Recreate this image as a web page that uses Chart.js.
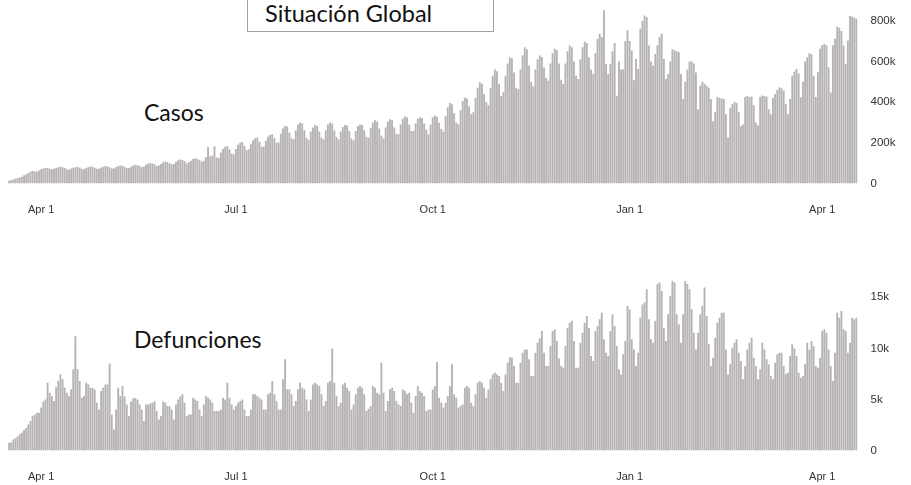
<!DOCTYPE html>
<html lang="es">
<head>
<meta charset="utf-8">
<title>Situación Global</title>
<script src="https://cdn.jsdelivr.net/npm/chart.js"></script>
<style>
  html, body { margin: 0; padding: 0; background: #fff; }
  body { width: 911px; height: 485px; position: relative; overflow: hidden; font-family: Lato, "Noto Sans", sans-serif; }
  canvas { position: absolute; left: 0; }
  #casesChart { top: 0; }
  #deathsChart { top: 260px; }
  .titleBox { position: absolute; left: 247px; top: -2px; width: 247px; height: 34px; border: 1px solid #a3a3a3; box-sizing: border-box; }
  .label { position: absolute; color: #111; white-space: nowrap; line-height: 1; }
</style>
</head>
<body>
<div class="titleBox"></div>
<div class="label" id="title" style="left:265px; top:2px; font-size:23.5px;">Situación Global</div>
<div class="label" id="casosLabel" style="left:144px; top:101px; font-size:23px;">Casos</div>
<div class="label" id="defLabel" style="left:134px; top:328px; font-size:23px;">Defunciones</div>
<canvas id="casesChart" width="911" height="230"></canvas>
<canvas id="deathsChart" width="911" height="225"></canvas>
<script>
// daily reports, first day 2020-03-17, one line per week (Tue..Mon)
const startDay = "2020-03-17";

// new cases per day, in thousands
const casesK = [
  14, 17, 20, 24, 27, 30, 33,
  40, 45, 52, 58, 62, 60, 58,
  64, 70, 74, 76, 78, 72, 70,
  72, 76, 80, 82, 80, 76, 70,
  68, 74, 78, 80, 82, 78, 72,
  70, 76, 80, 84, 82, 78, 72,
  72, 78, 82, 86, 84, 80, 74,
  74, 80, 86, 88, 86, 82, 76,
  76, 82, 88, 92, 90, 86, 80,
  84, 92, 98, 100, 98, 94, 86,
  88, 96, 104, 108, 106, 100, 94,
  96, 106, 114, 118, 116, 110, 100,
  104, 112, 120, 124, 122, 114, 108,
  112, 130, 178, 134, 138, 183, 128,
  127, 152, 170, 180, 184, 168, 148,
  143, 170, 190, 200, 204, 185, 165,
  168, 195, 212, 222, 226, 205, 180,
  181, 210, 230, 240, 242, 222, 200,
  201, 245, 270, 283, 280, 250, 222,
  217, 260, 290, 300, 296, 262, 225,
  214, 255, 275, 287, 282, 255, 225,
  217, 262, 290, 300, 295, 260, 228,
  217, 255, 278, 287, 285, 258, 222,
  212, 258, 282, 290, 288, 262, 230,
  226, 272, 300, 311, 305, 270, 235,
  222, 275, 305, 316, 312, 275, 245,
  242, 290, 318, 329, 325, 290, 258,
  258, 295, 318, 324, 322, 295, 265,
  242, 290, 325, 333, 328, 298, 268,
  254, 330, 375, 395, 390, 345, 300,
  291, 360, 405, 423, 418, 380, 340,
  350, 420, 470, 498, 490, 440, 400,
  385, 470, 530, 560, 552, 490, 430,
  448, 530, 590, 621, 615, 545, 470,
  464, 560, 630, 670, 660, 580, 500,
  478, 560, 610, 629, 622, 570, 520,
  505, 590, 640, 662, 655, 590, 510,
  489, 590, 650, 678, 670, 600, 530,
  514, 610, 670, 698, 690, 620, 560,
  538, 640, 710, 736, 720, 851, 588,
  538, 588, 650, 690, 431, 600, 560,
  560, 700, 752, 700, 653, 507, 612,
  563, 760, 800, 826, 818, 678, 600,
  580, 637, 680, 720, 736, 612, 514,
  538, 600, 660, 655, 650, 646, 538,
  415, 500, 560, 600, 600, 590, 545,
  365, 480, 500, 490, 480, 470, 415,
  306, 350, 425, 420, 418, 415, 340,
  226, 370, 390, 400, 395, 350, 283,
  290, 425, 430, 425, 428, 385, 300,
  285, 425, 432, 430, 428, 365, 340,
  420, 440, 460, 473, 468, 457, 390,
  340, 415, 530, 550, 563, 540, 424,
  500, 600, 620, 640, 635, 530, 425,
  547, 662, 680, 686, 680, 571, 447,
  680, 711, 770, 765, 750, 678, 588,
  703, 823, 820, 815, 810
];

// new deaths per day
const deaths = [
  750, 800, 1080, 1200, 1400, 1600, 1730,
  2000, 2200, 2550, 2900, 3400, 3500, 3700,
  3700, 4200, 4800, 5000, 6640, 5660, 5330,
  4840, 6200, 6800, 7450, 6970, 6150, 5660,
  5330, 6000, 7950, 11200, 7950, 6800, 5170,
  5330, 6640, 6470, 6150, 6150, 5980, 4680,
  4020, 5820, 6150, 6470, 6470, 8530, 3500,
  2060, 4020, 6150, 5330, 6310, 5300, 4500,
  3370, 4800, 5100, 5150, 5000, 4500, 4020,
  2880, 4510, 4510, 4600, 4680, 4800, 3860,
  3040, 3370, 4800, 4700, 4350, 4350, 4020,
  3040, 4510, 5000, 5300, 5500, 4680, 3370,
  3530, 3530, 5170, 5000, 4850, 4020, 3370,
  4500, 5330, 5170, 5000, 4680, 3860, 3860,
  3860, 4020, 5170, 5000, 6640, 5170, 4510,
  4020, 4350, 4680, 4850, 5000, 4020, 3370,
  3370, 4020, 5500, 5500, 5330, 5170, 5000,
  4020, 4020, 5500, 5650, 6800, 5500, 4840,
  4020, 4020, 6970, 8930, 6000, 6000, 5500,
  4350, 4840, 6000, 6640, 6150, 6000, 5000,
  3860, 5000, 6470, 6640, 6470, 6310, 5500,
  4350, 4840, 6640, 6800, 9970, 6640, 5330,
  4350, 4680, 6470, 6640, 6150, 5830, 4020,
  4510, 5500, 6150, 6310, 6150, 5500, 3860,
  4100, 4350, 6310, 6150, 5660, 5500, 8600,
  5660, 3860, 4840, 6000, 6150, 5830, 4840,
  4500, 4350, 5980, 5830, 5500, 5660, 4680,
  3700, 5330, 6310, 5830, 5660, 5330, 3860,
  4020, 4020, 5980, 6310, 8670, 5170, 4680,
  4190, 4680, 5330, 6310, 8440, 5500, 5170,
  4190, 4350, 4510, 6150, 6310, 6150, 4680,
  4350, 5500, 6640, 6800, 6640, 6150, 5170,
  5980, 6970, 7450, 7620, 7450, 7290, 6640,
  5820, 7450, 8600, 9100, 9100, 8270, 6640,
  6640, 8600, 9580, 9900, 9900, 8930, 7290,
  7290, 9580, 10560, 11000, 11700, 9580, 8270,
  8270, 10240, 11700, 11870, 10730, 9000, 8270,
  8110, 10240, 12000, 12500, 12700, 10730, 8110,
  8110, 10560, 11540, 12500, 13180, 12000, 9250,
  8760, 11700, 12200, 12850, 13500, 10890, 9580,
  9250, 11700, 13340, 12200, 10240, 7950, 7450,
  9420, 10730, 14160, 13830, 10900, 9900, 8270,
  9580, 13000, 14300, 14490, 15800, 12850, 10900,
  10560, 12690, 16300, 16450, 15630, 12000, 10730,
  13340, 15140, 16600, 16450, 13340, 12360, 10560,
  13340, 16600, 16300, 15800, 13830, 11540, 9900,
  11540, 13340, 14160, 15960, 13180, 10400, 8270,
  9090, 11050, 12500, 13000, 13500, 13500, 9900,
  7450, 8440, 10070, 10560, 10890, 9580, 8760,
  6970, 8270, 9900, 10560, 11050, 9090, 8270,
  6970, 7950, 10560, 9900, 8930, 8440, 7290,
  6970, 8600, 9420, 9580, 9580, 8270, 7500,
  7620, 9250, 10400, 10000, 9250, 7620, 7130,
  7300, 8440, 10560, 9900, 10730, 10240, 8270,
  8110, 9090, 11700, 11870, 11540, 9900, 8270,
  6800, 9580, 13500, 13000, 13670, 11870, 11700,
  9580, 10560, 13000, 12850, 13000
];

// y-axis tick values
const casesTicks = [0, 200, 400, 600, 800];
const deathsTicks = [0, 5000, 10000, 15000];

const monthNames = ["Jan", "Feb", "Mar", "Apr", "May", "Jun", "Jul", "Aug", "Sep", "Oct", "Nov", "Dec"];
const tickMonths = [0, 3, 6, 9]; // Jan, Apr, Jul, Oct

// one category per reported day
const days = [];
{
  const d = new Date(startDay + "T00:00:00Z");
  for (let i = 0; i < casesK.length; i++) {
    days.push(d.toISOString().slice(0, 10));
    d.setUTCDate(d.getUTCDate() + 1);
  }
}

const barColor = "#b7b3b3";
const tickFont = { family: "'Liberation Sans', Arial, sans-serif", size: 11 };
const yTickFont = { family: "'Liberation Sans', Arial, sans-serif", size: 11.5 };
const tickColor = "#333";

function dayTick(label) {
  const m = Number(label.slice(5, 7)) - 1;
  const dd = Number(label.slice(8, 10));
  if (dd === 1 && tickMonths.includes(m)) return monthNames[m] + " 1";
  return "";
}

function makePanel(canvasId, values, opts) {
  const canvas = document.getElementById(canvasId);
  return new Chart(canvas, {
    type: "bar",
    data: {
      labels: days,
      datasets: [{
        data: values,
        backgroundColor: barColor,
        borderWidth: 0,
        barPercentage: 0.88,
        categoryPercentage: 1.0
      }]
    },
    options: {
      responsive: false,
      animation: false,
      events: [],
      layout: { padding: { left: 8, right: 0, top: opts.padTop, bottom: 0 } },
      plugins: { legend: { display: false }, tooltip: { enabled: false } },
      scales: {
        x: {
          grid: { display: false, drawTicks: false },
          border: { display: false },
          ticks: {
            autoSkip: false, maxRotation: 0, minRotation: 0,
            padding: 20, font: tickFont, color: tickColor,
            callback: function (value) { return dayTick(this.getLabelForValue(value)); }
          },
          afterFit: (s) => { s.height = opts.xHeight; s.paddingLeft = 0; s.paddingRight = 0; }
        },
        y: {
          position: "right",
          min: 0,
          max: opts.max,
          grid: { display: false, drawTicks: false },
          border: { display: false },
          ticks: {
            autoSkip: false, padding: 13, font: yTickFont, color: tickColor,
            callback: opts.format
          },
          afterBuildTicks: (s) => { s.ticks = opts.ticks.map(v => ({ value: v })); },
          afterFit: (s) => { s.width = 53.5; s.paddingTop = 0; s.paddingBottom = 0; }
        }
      }
    }
  });
}

makePanel("casesChart", casesK, {
  max: 860, ticks: casesTicks, padTop: 8.5, xHeight: 46.5,
  format: (v) => v === 0 ? "0" : v + "k"
});

makePanel("deathsChart", deaths, {
  max: 17000, ticks: deathsTicks, padTop: 16.9, xHeight: 34.5,
  format: (v) => v === 0 ? "0" : (v / 1000) + "k"
});
</script>
</body>
</html>
